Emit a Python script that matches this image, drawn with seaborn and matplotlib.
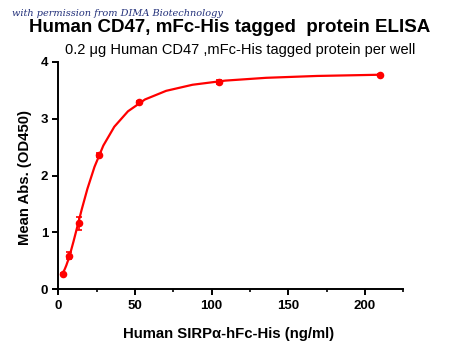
import numpy as np
import pandas as pd
import matplotlib
matplotlib.use("Agg")
import matplotlib.pyplot as plt
import seaborn as sns
from matplotlib.ticker import MultipleLocator

# ---- data ----
conc = [3.28, 6.56, 13.13, 26.25, 52.5, 105.0, 210.0]
od450 = [0.27, 0.59, 1.16, 2.36, 3.29, 3.65, 3.77]
od_err = [0.02, 0.06, 0.12, 0.03, 0.03, 0.04, 0.02]
x_ticks = [0, 50, 100, 150, 200]
y_ticks = [0, 1, 2, 3, 4]
title = "Human CD47, mFc-His tagged  protein ELISA"
subtitle = "0.2 μg Human CD47 ,mFc-His tagged protein per well"
x_label = "Human SIRPα-hFc-His (ng/ml)"
y_label = "Mean Abs. (OD450)"
watermark = "with permission from DIMA Biotechnology"

df = pd.DataFrame({"conc": conc, "od": od450, "err": od_err})

# ---- 4-parameter logistic fit to the points (grid search + linear LSQ) ----
x = np.array(conc); y = np.array(od450)
best = None
for b in np.linspace(0.5, 4.0, 141):
    for c in np.exp(np.linspace(np.log(3), np.log(200), 200)):
        g = 1.0 / (1.0 + (x / c) ** b)
        A = np.column_stack([g, 1 - g])
        coef, *_ = np.linalg.lstsq(A, y, rcond=None)
        r = np.sum((A @ coef - y) ** 2)
        if best is None or r < best[0]:
            best = (r, b, c, coef)
_, b, c, (a, d) = best
# curve sampled on a coarse log grid, as the source software draws it
xf = np.geomspace(min(conc), max(conc), 20)
fit = pd.DataFrame({"conc": xf, "od": d + (a - d) / (1 + (xf / c) ** b)})

# ---- figure ----
sns.set_style("ticks")
plt.rcParams["font.family"] = ["Liberation Sans", "DejaVu Sans"]
for k in ("text.color", "axes.labelcolor", "xtick.color", "ytick.color",
          "axes.edgecolor"):
    plt.rcParams[k] = "black"
fig = plt.figure(figsize=(4.5, 3.58), dpi=100)
ax = fig.add_axes([0.118, 0.184, 0.778, 0.643])

red = "#ff0000"
sns.lineplot(data=fit, x="conc", y="od", ax=ax, color=red, lw=1.6)
ax.errorbar(df["conc"], df["od"], yerr=df["err"], fmt="none", ecolor=red,
            elinewidth=1.2, capsize=2.5, capthick=1.2)
sns.scatterplot(data=df, x="conc", y="od", ax=ax, color=red, s=30,
                edgecolor=red, linewidth=0, zorder=5)

ax.set_xlim(-3.5, 225)
ax.set_ylim(-0.05, 4)
ax.spines["left"].set_position(("data", 0))
ax.spines["bottom"].set_position(("data", 0))
ax.spines["top"].set_visible(False)
ax.spines["right"].set_visible(False)
for s in ("left", "bottom"):
    ax.spines[s].set_linewidth(1.4)
    ax.spines[s].set_color("black")
ax.spines["left"].set_bounds(-0.05, 4)
ax.spines["bottom"].set_bounds(-3.5, 225)

ax.set_xticks(x_ticks)
ax.set_yticks(y_ticks)
ax.xaxis.set_minor_locator(MultipleLocator(25))
ax.tick_params(axis="both", which="major", direction="out", length=4, width=1.4,
               labelsize=9.5, colors="black")
ax.tick_params(axis="x", which="minor", direction="out", length=2.5, width=1.2,
               colors="black")
for lab in ax.get_xticklabels() + ax.get_yticklabels():
    lab.set_fontweight("bold")

ax.set_xlabel(x_label, fontsize=10.7, fontweight="bold", labelpad=11,
              color="black")
ax.set_ylabel(y_label, fontsize=10.7, fontweight="bold", labelpad=6,
              color="black")

fig.text(0.51, 0.922, title, ha="center", va="center", fontsize=13.5,
         fontweight="bold", color="black")
fig.text(0.533, 0.86, subtitle, ha="center", va="center", fontsize=10.5,
         color="black")
fig.text(0.027, 0.962, watermark, ha="left", va="center", fontsize=7,
         family=["DejaVu Serif"], style="italic", color="#22307a")

fig.savefig("out.png", dpi=100)
